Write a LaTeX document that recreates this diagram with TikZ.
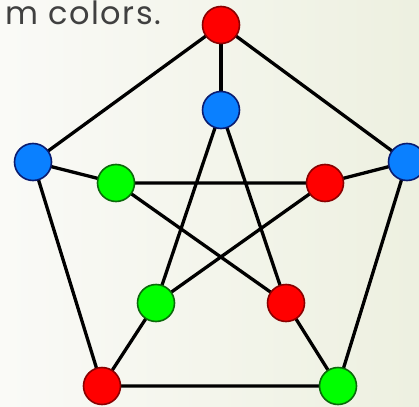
\documentclass[tikz,border=0pt]{standalone}
\usepackage{fontspec}
\setmainfont{Poppins}
\definecolor{bgA}{HTML}{FAFAF7}
\definecolor{bgB}{HTML}{EDF0E0}
\definecolor{txt}{HTML}{404040}
\definecolor{vred}{HTML}{FF0000}
\definecolor{vredd}{HTML}{8A0000}
\definecolor{vblue}{HTML}{0A80FF}
\definecolor{vblued}{HTML}{0A1C70}
\definecolor{vgreen}{HTML}{00FF00}
\definecolor{vgreend}{HTML}{0A6A0A}
\pgfdeclarelayer{bglayer}
\pgfdeclarelayer{edgelayer}
\pgfsetlayers{bglayer,edgelayer,main}
\begin{document}
\begin{tikzpicture}[x=1pt,y=-1pt,
  vtx/.style={circle,minimum size=37pt,inner sep=0pt,line width=1.6pt},
  R/.style={vtx,fill=vred,draw=vredd},
  B/.style={vtx,fill=vblue,draw=vblued},
  G/.style={vtx,fill=vgreen,draw=vgreend},
  edge/.style={line width=3.3pt,black}]
\useasboundingbox (0,0) rectangle (419,406);
\clip (0,0) rectangle (419,406);
\begin{pgfonlayer}{bglayer}
\shade[shading angle=135,left color=bgA,right color=bgB] (0,0) rectangle (419,406);
\end{pgfonlayer}
\node[anchor=base west,text=txt,font=\fontsize{32}{32}\selectfont\addfontfeatures{LetterSpace=5},inner sep=0pt] (cap) at (5,25) {m colors.};
% outer
\node[R] (o1) at (221,25) {};
\node[B] (o2) at (407,162) {};
\node[G] (o3) at (338,386) {};
\node[R] (o4) at (102,386) {};
\node[B] (o5) at (33,162) {};
% inner
\node[B] (i1) at (221,110) {};
\node[R] (i2) at (325,183) {};
\node[R] (i3) at (286,303) {};
\node[G] (i4) at (156,303) {};
\node[G] (i5) at (116,183) {};
\begin{pgfonlayer}{edgelayer}
\draw[edge] (o1.center) -- (o2.center) -- (o3.center) -- (o4.center) -- (o5.center) -- (o1.center);
\draw[edge] (o1.center) -- (i1.center);
\draw[edge] (o2.center) -- (i2.center);
\draw[edge] (o3.center) -- (i3.center);
\draw[edge] (o4.center) -- (i4.center);
\draw[edge] (o5.center) -- (i5.center);
\draw[edge] (i1.center) -- (i3.center) -- (i5.center) -- (i2.center) -- (i4.center) -- (i1.center);
\end{pgfonlayer}
\end{tikzpicture}
\end{document}
